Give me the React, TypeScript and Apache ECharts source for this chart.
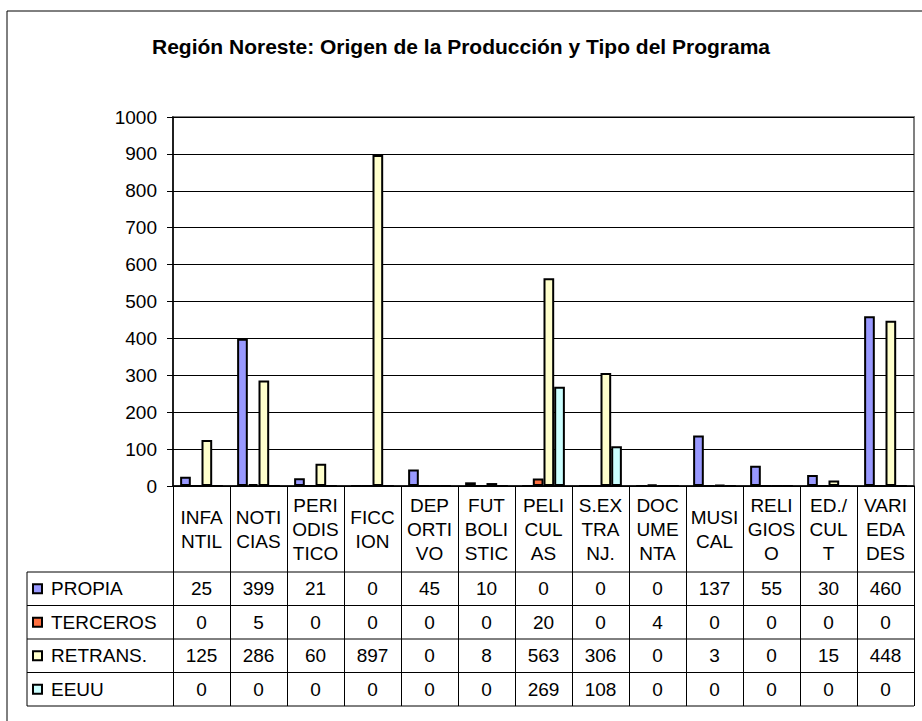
import React, { useEffect, useRef } from "react";
import * as echarts from "echarts";

const title = "Región Noreste: Origen de la Producción y Tipo del Programa";
const categories = ["INFANTIL", "NOTICIAS", "PERIODISTICO", "FICCION", "DEPORTIVO", "FUTBOLISTIC", "PELICULAS", "S.EXTRANJ.", "DOCUMENTA", "MUSICAL", "RELIGIOSO", "ED./CULT", "VARIEDADES"];
const categoryLabels = ["INFA\nNTIL", "NOTI\nCIAS", "PERI\nODIS\nTICO", "FICC\nION", "DEP\nORTI\nVO", "FUT\nBOLI\nSTIC", "PELI\nCUL\nAS", "S.EX\nTRA\nNJ.", "DOC\nUME\nNTA", "MUSI\nCAL", "RELI\nGIOS\nO", "ED./\nCUL\nT", "VARI\nEDA\nDES"];
const seriesNames = ["PROPIA", "TERCEROS", "RETRANS.", "EEUU"];
const propia = [25, 399, 21, 0, 45, 10, 0, 0, 0, 137, 55, 30, 460];
const terceros = [0, 5, 0, 0, 0, 0, 20, 0, 4, 0, 0, 0, 0];
const retrans = [125, 286, 60, 897, 0, 8, 563, 306, 0, 3, 0, 15, 448];
const eeuu = [0, 0, 0, 0, 0, 0, 269, 108, 0, 0, 0, 0, 0];
const yMin = 0;
const yMax = 1000;
const yInterval = 100;

const seriesValues = [propia, terceros, retrans, eeuu];
const seriesColors = ["#9999FF", "#FF7040", "#FFFFCC", "#CCFFFF"];

const W = 922;
const H = 721;
const FONT = "Arial, 'Liberation Sans', sans-serif";
const gridLeft = 173;
const gridRight = 8;
const gridTop = 117;
const zeroY = 486;
const headerH = 86;
const rowH = 33.5;
const legendLeft = 27;

export default function App() {
  const ref = useRef<HTMLDivElement>(null);
  useEffect(() => {
    if (!ref.current) return;
    const chart = echarts.init(ref.current, null, { renderer: "svg" });
    const tableTop = zeroY + headerH;
    const rightX = W - gridRight;
    const tableLines: any[] = [];
    for (let i = 0; i <= seriesNames.length; i++) {
      const y = tableTop + i * rowH;
      tableLines.push({
        type: "line",
        shape: { x1: legendLeft, y1: y, x2: rightX, y2: y },
        style: { stroke: "#000", lineWidth: 1 },
        silent: true,
      });
    }
    tableLines.push({
      type: "line",
      shape: { x1: legendLeft, y1: tableTop, x2: legendLeft, y2: tableTop + seriesNames.length * rowH },
      style: { stroke: "#000", lineWidth: 1 },
      silent: true,
    });

    const valueAxes = seriesValues.map((vals, i) => ({
      type: "category",
      gridIndex: 0,
      position: "bottom",
      data: categoryLabels,
      axisLine: { show: false },
      axisTick: { show: false },
      splitLine: { show: false },
      axisLabel: {
        interval: 0,
        margin: headerH + rowH * i + rowH / 2,
        verticalAlign: "middle",
        fontSize: 19,
        fontFamily: FONT,
        color: "#000",
        formatter: (_v: string, idx: number) => String(vals[idx]),
      },
    }));

    chart.setOption({
      animation: false,
      backgroundColor: "#fff",
      title: {
        text: title,
        left: "center",
        top: 31,
        textStyle: { fontSize: 21, fontWeight: "bold", fontFamily: FONT, color: "#000" },
      },
      legend: {
        orient: "vertical",
        left: 32,
        top: tableTop + rowH / 2 - 10,
        padding: 0,
        itemWidth: 9,
        itemHeight: 9,
        itemGap: rowH - 20,
        icon: "rect",
        data: seriesNames,
        textStyle: { fontSize: 19, fontFamily: FONT, color: "#000", lineHeight: 20, padding: [0, 0, 0, 4] },
      },
      grid: {
        left: gridLeft,
        right: gridRight,
        top: gridTop,
        bottom: H - zeroY,
        show: true,
        borderColor: "#808080",
        borderWidth: 2,
        backgroundColor: "transparent",
      },
      xAxis: [
        {
          type: "category",
          data: categoryLabels,
          boundaryGap: true,
          axisLine: { show: true, lineStyle: { color: "#000", width: 1.5 } },
          axisTick: { show: true, length: headerH + rowH * seriesNames.length, lineStyle: { color: "#000", width: 1 } },
          axisLabel: {
            interval: 0,
            margin: headerH / 2,
            verticalAlign: "middle",
            lineHeight: 24,
            fontSize: 19,
            fontFamily: FONT,
            color: "#000",
          },
          splitLine: { show: false },
        },
        ...valueAxes,
      ],
      yAxis: {
        type: "value",
        min: yMin,
        max: yMax,
        interval: yInterval,
        axisLine: { show: true, lineStyle: { color: "#000", width: 1.5 } },
        axisTick: { show: true, length: 6, lineStyle: { color: "#000" } },
        axisLabel: { fontSize: 19, fontFamily: FONT, color: "#000", margin: 16, formatter: (v: number) => String(v) },
        splitLine: { show: true, lineStyle: { color: "#000", width: 1 } },
      },
      series: seriesNames.map((name, i) => ({
        name,
        type: "bar",
        xAxisIndex: 0,
        data: seriesValues[i],
        barGap: "0%",
        barCategoryGap: "25%",
        itemStyle: { color: seriesColors[i], borderColor: "#000", borderWidth: 2 },
      })),
      graphic: [
        {
          type: "rect",
          shape: { x: 7, y: 11, width: W + 20, height: H + 20 },
          style: { fill: "none", stroke: "#000", lineWidth: 1 },
          silent: true,
          z: -1,
        },
        ...tableLines,
      ],
    });
    return () => chart.dispose();
  }, []);
  return <div ref={ref} style={{ position: "fixed", left: 0, top: 0, width: W, height: H }} />;
}
